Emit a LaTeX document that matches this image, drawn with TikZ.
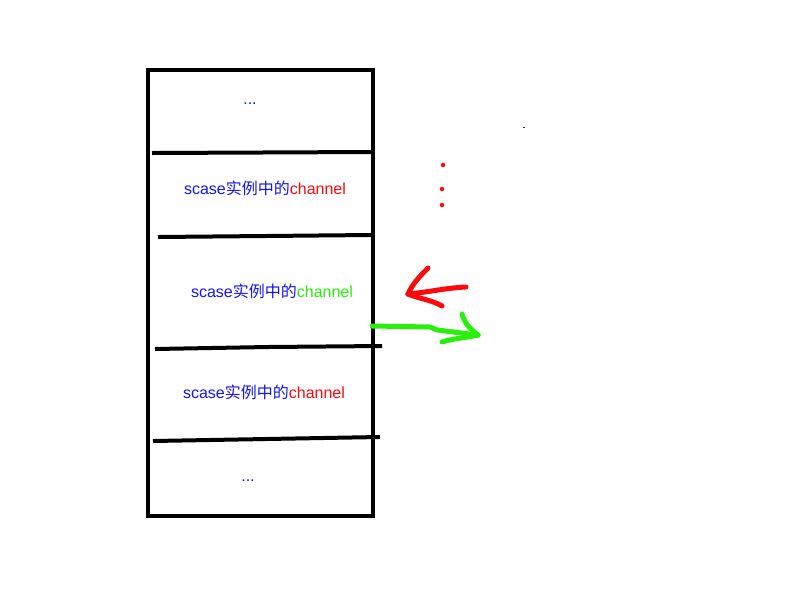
\documentclass[tikz,border=0pt]{standalone}
\usepackage{fontspec}
\setmainfont{Liberation Sans}
\newfontfamily\cjk{Noto Sans CJK SC}
\definecolor{cblue}{RGB}{20,20,240}
\definecolor{cred}{RGB}{250,10,10}
\definecolor{cgreen}{RGB}{40,240,10}
\begin{document}
\begin{tikzpicture}[x=1pt,y=-1pt,
  frame/.style={draw=black,line width=4pt},
  divider/.style={draw=black,line width=4pt},
  label/.style={inner sep=0pt,font=\fontsize{16}{18}\selectfont,text=cblue},
  pen/.style={line width=5pt,line cap=round,line join=round},
  reddot/.style={circle,fill=cred,inner sep=0pt,minimum size=4.5pt}]
\useasboundingbox (0,0) rectangle (800,600);
\fill[white] (0,0) rectangle (800,600);
% outer box
\draw[frame] (148,70) rectangle (373,516);
% dividers
\draw[divider] (152,153) -- (372,152);
\draw[divider] (158,237) -- (266,236) -- (371,235);
\draw[divider] (155,349) -- (268,347) -- (382,346);
\draw[divider] (153,441) -- (380,437);
% texts
\node[label] (t0) at (250,104) {...};
\node[label] (t1) at (265,188) {scase{\cjk 实例中的}\textcolor{cred}{channel}};
\node[label] (t2) at (272,291) {scase{\cjk 实例中的}\textcolor{cgreen}{channel}};
\node[label] (t3) at (264,392) {scase{\cjk 实例中的}\textcolor{cred}{channel}};
\node[label] (t4) at (248,481) {...};
% red dots
\node[reddot] (d1) at (443,165) {};
\node[reddot] (d2) at (442,189) {};
\node[reddot] (d3) at (442,205) {};
\fill[cblue] (523,126.5) rectangle (525,127.5);
% red arrow (hand drawn)
\coordinate (rtail) at (466,287);
\coordinate (rtip) at (408,294);
\draw[pen,cred] (rtail) .. controls (445,288) and (430,292) .. (rtip);
\draw[pen,cred] (428,268) .. controls (418,278) and (412,285) .. (rtip);
\draw[pen,cred] (rtip) .. controls (420,299) and (432,300) .. (442,306);
% green arrow (hand drawn)
\coordinate (gtail) at (372,326);
\coordinate (gtip) at (478,335);
\draw[pen,cgreen] (gtail) -- (430,327) -- (437,330) -- (gtip);
\draw[pen,cgreen] (462,314) .. controls (465,325) and (472,330) .. (gtip);
\draw[pen,cgreen] (gtip) .. controls (465,338) and (455,338) .. (442,342);
\end{tikzpicture}
\end{document}
